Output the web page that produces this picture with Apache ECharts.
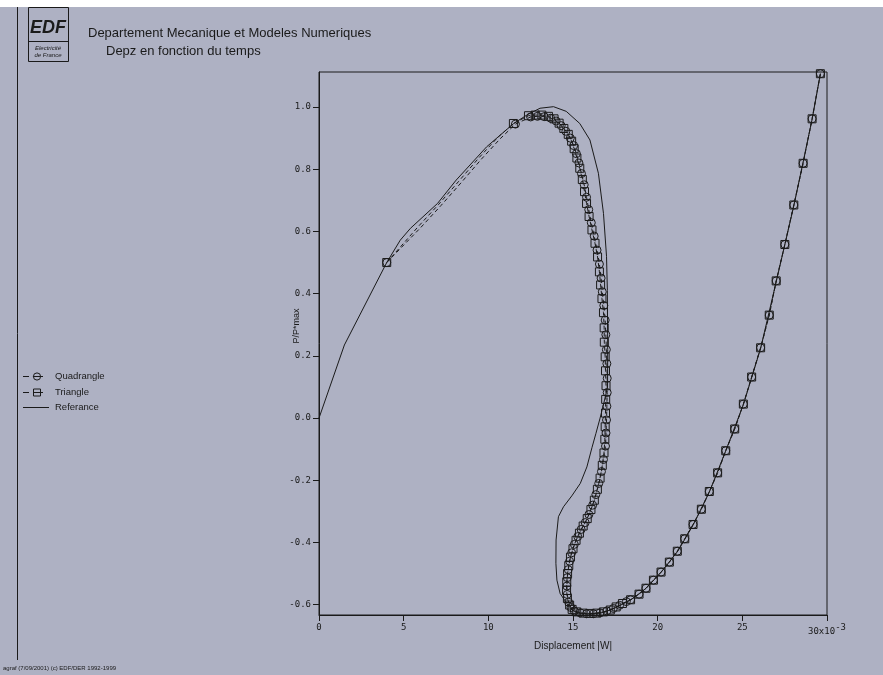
<!DOCTYPE html>
<html><head><meta charset="utf-8">
<script src="https://cdn.jsdelivr.net/npm/echarts@6/dist/echarts.min.js"></script>
<style>html,body{margin:0;padding:0;background:#fff}#c{width:883px;height:675px}</style>
</head><body><div id="c"></div>
<script>
// ---- data (x in 1e-3 units of displacement, y = P/P*max) ----
const yTicks = [-0.6, -0.4, -0.2, 0.0, 0.2, 0.4, 0.6, 0.8, 1.0];
const xTicks = [0, 5, 10, 15, 20, 25, 30];
const legendNames = ['Quadrangle', 'Triangle', 'Referance'];

const refCurve = [
  [0,0],[1.5,0.235],[4.0,0.5],[4.8,0.572],[5.4,0.61],[7.0,0.69],[8.1,0.765],[9.9,0.872],
  [11.5,0.947],[12.3,0.975],[13.05,0.996],[13.85,1.001],[14.6,0.986],[15.4,0.947],[16.0,0.894],
  [16.5,0.787],[16.8,0.658],[16.98,0.52],[17.03,0.41],[17.05,0.22],[17.04,0.1],[16.85,0.055],
  [16.6,0.0],[16.35,-0.05],[16.12,-0.095],[15.82,-0.157],[15.43,-0.21],[14.93,-0.25],
  [14.44,-0.285],[14.14,-0.317],[14.0,-0.392],[13.99,-0.467],[14.05,-0.521],[14.24,-0.564],
  [14.64,-0.596],[14.93,-0.617],[15.3,-0.627],[16.0,-0.63],[16.8,-0.625],[17.5,-0.61],
  [18.4,-0.585],[19.3,-0.548],[20.2,-0.496],[21.2,-0.427],[22.1,-0.343],[23.05,-0.238],
  [24.0,-0.108],[25.06,0.043],[26.08,0.224],[27.0,0.438],[28.04,0.682],[29.12,0.96],[29.61,1.107]
];

// points of the dashed lines that carry no symbol
const quadLeadIn = [[6.0,0.612],[7.2,0.683],[8.4,0.757],[9.6,0.833],[10.7,0.898]];
const triLeadIn  = [[5.85,0.615],[7.05,0.686],[8.25,0.761],[9.45,0.837],[10.55,0.902]];

const quadPts = [
  [11.6,0.945],[12.5,0.968],[12.9,0.97],[13.3,0.969],[13.68,0.964],[14.0,0.955],[14.3,0.94],
  [14.58,0.922],[14.84,0.9],[15.04,0.876],[15.2,0.85],[15.35,0.82],[15.5,0.786],[15.66,0.75],
  [15.8,0.71],[15.93,0.67],[16.08,0.628],[16.25,0.585],[16.42,0.54],[16.56,0.495],[16.66,0.45],
  [16.73,0.406],[16.82,0.362],[16.9,0.315],[16.94,0.268],[16.97,0.22],[17.0,0.175],[17.02,0.128],
  [17.02,0.082],[17.0,0.038],[16.98,-0.006],[16.95,-0.048],[16.92,-0.09],[16.8,-0.133],
  [16.68,-0.172],[16.52,-0.21],[16.35,-0.246],[16.16,-0.28],[15.94,-0.31],[15.72,-0.336],
  [15.48,-0.358],[15.28,-0.381],[15.08,-0.406],[14.92,-0.433],[14.8,-0.46],[14.72,-0.487],
  [14.66,-0.513],[14.64,-0.54],[14.66,-0.567],[14.74,-0.592],[14.88,-0.609],[15.08,-0.62],
  [15.42,-0.626],[15.8,-0.629],[16.2,-0.629],[16.6,-0.626],[17.0,-0.62],[17.38,-0.612],
  [17.75,-0.602],[18.15,-0.59],[18.4,-0.584],[18.9,-0.566],[19.31,-0.547],[19.75,-0.521],
  [20.2,-0.495],[20.69,-0.463],[21.16,-0.428],[21.6,-0.388],[22.09,-0.342],[22.58,-0.293],
  [23.05,-0.236],[23.54,-0.176],[24.02,-0.105],[24.55,-0.035],[25.06,0.045],[25.55,0.132],
  [26.08,0.226],[26.59,0.331],[27.0,0.441],[27.51,0.558],[28.04,0.685],[28.59,0.819],
  [29.12,0.962],[29.61,1.107]
];

const triPts = [
  [11.48,0.947],[12.37,0.972],[12.77,0.974],[13.16,0.974],[13.55,0.97],[13.88,0.962],[14.18,0.948],
  [14.46,0.931],[14.72,0.912],[14.92,0.89],[15.07,0.866],[15.23,0.836],[15.4,0.803],[15.55,0.767],
  [15.68,0.728],[15.8,0.69],[15.95,0.648],[16.12,0.605],[16.3,0.562],[16.45,0.518],[16.56,0.47],
  [16.63,0.428],[16.71,0.384],[16.8,0.339],[16.84,0.29],[16.85,0.244],[16.9,0.197],[16.92,0.152],
  [16.95,0.104],[16.93,0.06],[16.92,0.016],[16.9,-0.028],[16.88,-0.068],[16.83,-0.112],
  [16.73,-0.152],[16.6,-0.193],[16.44,-0.229],[16.26,-0.264],[16.06,-0.294],[15.84,-0.323],
  [15.6,-0.347],[15.38,-0.37],[15.18,-0.393],[15.0,-0.42],[14.85,-0.447],[14.75,-0.474],
  [14.68,-0.5],[14.63,-0.527],[14.62,-0.554],[14.67,-0.58],[14.8,-0.601],[14.95,-0.615],
  [15.22,-0.623],[15.6,-0.627],[16.0,-0.628],[16.4,-0.627],[16.8,-0.623],[17.2,-0.617],
  [17.55,-0.607],[17.92,-0.596],[18.4,-0.584],[18.9,-0.566],[19.31,-0.547],[19.75,-0.521],
  [20.2,-0.495],[20.69,-0.463],[21.16,-0.428],[21.6,-0.388],[22.09,-0.342],[22.58,-0.293],
  [23.05,-0.236],[23.54,-0.176],[24.02,-0.105],[24.55,-0.035],[25.06,0.045],[25.55,0.132],
  [26.08,0.226],[26.59,0.331],[27.0,0.441],[27.51,0.558],[28.04,0.685],[28.59,0.819],
  [29.12,0.962],[29.61,1.107]
];
const startPt = [4.0, 0.5];

// ---- build ----
const INK = '#1a1a1a';
function build(lead, pts) {
  return [startPt].concat(lead.map(p => ({value: p, symbol: 'none'}))).concat(pts);
}
const mono = 'DejaVu Sans Mono';
const sans = 'Liberation Sans';

// hand-drawn legend (line / symbol / label) at the left margin
const legendY = [376, 392, 407];
const legendGraphics = [];
legendNames.forEach((nm, i) => {
  const y = legendY[i] + 0.5;
  if (i === 2) {
    legendGraphics.push({type: 'line', shape: {x1: 23, y1: y, x2: 49, y2: y}, style: {stroke: INK, lineWidth: 1}});
  } else {
    legendGraphics.push({type: 'line', shape: {x1: 23, y1: y, x2: 29, y2: y}, style: {stroke: INK, lineWidth: 1}});
    legendGraphics.push({type: 'line', shape: {x1: 33, y1: y, x2: 43, y2: y}, style: {stroke: INK, lineWidth: 1}});
    if (i === 0) legendGraphics.push({type: 'circle', shape: {cx: 37, cy: y, r: 3.6}, style: {fill: 'none', stroke: INK, lineWidth: 1}});
    else legendGraphics.push({type: 'rect', shape: {x: 33.5, y: y - 3.5, width: 7, height: 7}, style: {fill: 'none', stroke: INK, lineWidth: 1}});
  }
  legendGraphics.push({type: 'text', x: 55, y: legendY[i], style: {text: nm, font: '9.5px "' + sans + '"', fill: INK, verticalAlign: 'middle'}});
});

const chart = echarts.init(document.getElementById('c'), null, {renderer: 'canvas'});
chart.setOption({
  backgroundColor: '#aeb1c3',
  animation: false,
  grid: {left: 319, right: 56, top: 72, bottom: 60, show: true, borderColor: INK, borderWidth: 1, backgroundColor: 'transparent'},
  xAxis: {
    type: 'value', min: 0, max: 30, interval: 5,
    name: 'Displacement |W|', nameLocation: 'middle', nameGap: 26, nameMoveOverlap: false,
    nameTextStyle: {fontFamily: sans, fontSize: 10, color: INK},
    axisLine: {onZero: false, lineStyle: {color: INK, width: 1}},
    axisTick: {inside: false, length: 6, lineStyle: {color: INK}},
    splitLine: {show: false},
    axisLabel: {
      margin: 8, fontFamily: mono, fontSize: 9, color: INK,
      formatter: v => v === 30 ? '{a|30x10}{s|-3}' : String(v),
      rich: {a: {fontFamily: mono, fontSize: 9, color: INK}, s: {fontFamily: mono, fontSize: 9, color: INK, padding: [0, 0, 9, 0]}}
    }
  },
  yAxis: {
    type: 'value', min: -0.633, max: 1.1125,
    axisLine: {show: true, onZero: false, lineStyle: {color: INK, width: 1}},
    axisTick: {show: true, length: 6, lineStyle: {color: INK}, customValues: yTicks},
    splitLine: {show: false},
    axisLabel: {margin: 8, fontFamily: mono, fontSize: 9, color: INK, customValues: yTicks,
      formatter: v => v.toFixed(1)}
  },
  series: [
    {name: 'Referance', type: 'line', data: refCurve, showSymbol: false, symbol: 'none',
     lineStyle: {color: INK, width: 1}, itemStyle: {color: INK}, z: 2},
    {name: 'Quadrangle', type: 'line', data: build(quadLeadIn, quadPts), symbol: 'circle', symbolSize: 8,
     lineStyle: {color: INK, width: 1, type: [4, 3]},
     itemStyle: {color: 'rgba(0,0,0,0)', borderColor: INK, borderWidth: 1}, z: 3},
    {name: 'Triangle', type: 'line', data: build(triLeadIn, triPts), symbol: 'rect', symbolSize: 8,
     lineStyle: {color: INK, width: 1, type: [4, 3]},
     itemStyle: {color: 'rgba(0,0,0,0)', borderColor: INK, borderWidth: 1}, z: 4}
  ],
  graphic: [
    {type: 'rect', shape: {x: 0, y: 0, width: 883, height: 7}, style: {fill: '#ffffff'}, silent: true},
    {type: 'line', shape: {x1: 17.5, y1: 7, x2: 17.5, y2: 660}, style: {stroke: INK, lineWidth: 1}},
    {type: 'rect', shape: {x: 28.5, y: 7.5, width: 40, height: 54}, style: {fill: 'none', stroke: INK, lineWidth: 1}},
    {type: 'line', shape: {x1: 28.5, y1: 41.5, x2: 68.5, y2: 41.5}, style: {stroke: INK, lineWidth: 1}},
    {type: 'text', x: 48, y: 28, style: {text: 'EDF', font: 'italic bold 18px "' + sans + '"', fill: INK, align: 'center', verticalAlign: 'middle'}},
    {type: 'text', x: 48, y: 48, style: {text: 'Electricité', font: 'italic 6px "' + sans + '"', fill: INK, align: 'center', verticalAlign: 'middle'}},
    {type: 'text', x: 48, y: 55, style: {text: 'de France', font: 'italic 6px "' + sans + '"', fill: INK, align: 'center', verticalAlign: 'middle'}},
    {type: 'text', x: 88, y: 33, style: {text: 'Departement Mecanique et Modeles Numeriques', font: '13px "' + sans + '"', fill: INK, verticalAlign: 'middle'}},
    {type: 'text', x: 106, y: 51, style: {text: 'Depz en fonction du temps', font: '13px "' + sans + '"', fill: INK, verticalAlign: 'middle'}},
    {type: 'text', x: 297, y: 326, rotation: Math.PI / 2, style: {text: 'P/P*max', font: '9px "' + sans + '"', fill: INK, align: 'center', verticalAlign: 'middle'}},
    {type: 'text', x: 3, y: 668, style: {text: 'agraf (7/09/2001) (c) EDF/DER 1992-1999', font: '6px "' + sans + '"', fill: INK, verticalAlign: 'middle'}}
  ].concat(legendGraphics)
});
</script></body></html>
